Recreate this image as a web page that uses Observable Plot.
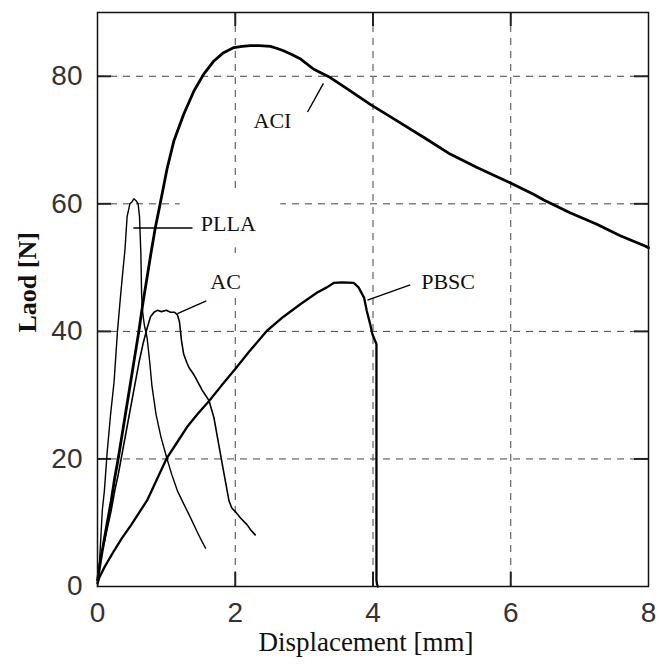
<!DOCTYPE html>
<html><head><meta charset="utf-8">
<script src="https://cdn.jsdelivr.net/npm/d3@7"></script>
<script src="https://cdn.jsdelivr.net/npm/@observablehq/plot@0.6"></script>
<style>
html,body{margin:0;padding:0;background:#fff;}
#chart{width:667px;height:664px;}
</style></head><body><div id="chart"></div>
<script>
const xTicks = [0, 2, 4, 6, 8];
const yTicks = [0, 20, 40, 60, 80];

const pllaX = [0, 0.02, 0.05, 0.07, 0.1, 0.14, 0.19, 0.24, 0.29, 0.33, 0.36, 0.40, 0.43, 0.47, 0.50, 0.53, 0.56, 0.59, 0.61, 0.63, 0.64, 0.65, 0.68, 0.72, 0.76, 0.79, 0.85, 0.92, 1.01, 1.08, 1.16, 1.25, 1.35, 1.45, 1.52, 1.57];
const pllaY = [0, 2, 8, 12, 15, 21, 27, 32, 40, 45, 48.5, 53, 58, 60, 60.3, 60.8, 60.5, 60, 58, 52, 46, 43.5, 41, 39, 35, 31.5, 27, 23.5, 20, 17.5, 15, 13, 10.8, 8.5, 7, 6];

const aciX = [0, 0.03, 0.06, 0.1, 0.15, 0.2, 0.25, 0.3, 0.36, 0.42, 0.48, 0.54, 0.6, 0.66, 0.72, 0.78, 0.84, 0.91, 1.01, 1.11, 1.25, 1.40, 1.54, 1.69, 1.83, 1.98, 2.1, 2.22, 2.35, 2.51, 2.6, 2.70, 2.82, 2.95, 3.14, 3.38, 3.67, 3.96, 4.35, 4.74, 5.12, 5.51, 5.99, 6.33, 6.48, 6.86, 7.25, 7.59, 7.95, 8.0];
const aciY = [1, 3, 5, 7.5, 10.5, 13.5, 17, 20, 24, 28, 32, 36, 40, 44.5, 48.5, 52.5, 56.3, 60, 65.5, 69.9, 74, 77.7, 80.3, 82.4, 83.7, 84.5, 84.7, 84.8, 84.8, 84.7, 84.4, 84.0, 83.4, 82.7, 81.1, 79.8, 77.7, 75.6, 73.0, 70.4, 67.8, 65.7, 63.3, 61.5, 60.6, 58.6, 56.8, 55.0, 53.4, 53.1];

const acX = [0, 0.02, 0.05, 0.1, 0.15, 0.2, 0.25, 0.3, 0.36, 0.42, 0.48, 0.54, 0.6, 0.66, 0.72, 0.77, 0.82, 0.87, 0.93, 1.0, 1.06, 1.12, 1.16, 1.19, 1.22, 1.25, 1.3, 1.33, 1.4, 1.45, 1.52, 1.58, 1.62, 1.69, 1.76, 1.83, 1.91, 1.95, 2.02, 2.08, 2.17, 2.23, 2.29];
const acY = [0.5, 3, 5, 7, 9.5, 12, 15, 17.5, 21, 24.5, 28, 31.5, 35, 38, 40.5, 42.3, 43, 43.3, 43.1, 43.3, 43, 43, 42.6, 41.5, 38.5, 36.5, 35, 34.3, 33.2, 32.2, 30.8, 29.8, 29.1, 26.5, 22.3, 18.1, 13.4, 12.3, 11.5, 10.7, 9.7, 8.8, 8.1];

const pbscX = [0, 0.03, 0.1, 0.18, 0.24, 0.35, 0.48, 0.6, 0.72, 0.85, 1.0, 1.15, 1.3, 1.45, 1.62, 1.8, 2.0, 2.2, 2.46, 2.7, 2.95, 3.19, 3.33, 3.43, 3.55, 3.72, 3.79, 3.87, 3.91, 3.96, 3.99, 4.02, 4.05, 4.05, 4.05, 4.06, 4.07];
const pbscY = [0.5, 1.5, 3, 4.5, 5.6, 7.5, 9.5, 11.5, 13.5, 16.5, 20, 22.5, 25, 27, 29.1, 31.5, 34.1, 36.8, 40.1, 42.3, 44.3, 46.1, 46.9, 47.6, 47.7, 47.6, 46.9, 45.3, 43.2, 41.1, 39.6, 38.8, 38, 20, 1, 0.3, 0];

const labelText = ["PLLA", "AC", "ACI", "PBSC"];
const labelX = [1.9, 1.86, 2.54, 5.09];
const labelY = [56.8, 47.8, 73.0, 47.8];
const leaderX1 = [0.52, 1.16, 3.05, 3.92];
const leaderY1 = [56.2, 42.8, 74.4, 44.9];
const leaderX2 = [1.38, 1.58, 3.28, 4.54];
const leaderY2 = [56.2, 44.8, 78.9, 47.3];

// white label backgrounds that interrupt the grid (PLLA, AC)
const boxX1 = [1.2, 1.5];
const boxX2 = [2.66, 2.3];
const boxY1 = [53.1, 45.3];
const boxY2 = [61.8, 52.1];

const toRows = (xs, ys) => xs.map((x, i) => ({x, y: ys[i]}));
const series = [
  {name: "PLLA", rows: toRows(pllaX, pllaY), w: 1.4},
  {name: "AC", rows: toRows(acX, acY), w: 1.6},
  {name: "ACI", rows: toRows(aciX, aciY), w: 2.8},
  {name: "PBSC", rows: toRows(pbscX, pbscY), w: 2.3}
];
const idx = labelText.map((_, i) => i);
const boxIdx = boxX1.map((_, i) => i);

const W = 667, H = 664, mL = 97, mR = 19, mT = 12, mB = 78;
const innerW = W - mL - mR, innerH = H - mT - mB;
const tickLen = 14;

const marks = [
  Plot.gridY(yTicks.filter(v => v > 0), {stroke: "#444", strokeOpacity: 1, strokeWidth: 1, strokeDasharray: "7,6"}),
  Plot.gridX(xTicks.filter(v => v > 0 && v < 8), {stroke: "#444", strokeOpacity: 1, strokeWidth: 1, strokeDasharray: "7,6"}),
  Plot.rect(boxIdx, {x1: i => boxX1[i], x2: i => boxX2[i], y1: i => boxY1[i], y2: i => boxY2[i], fill: "white"}),
  Plot.tickY(yTicks.filter(v => v > 0), {y: d => d, insetRight: innerW - tickLen, stroke: "#222", strokeWidth: 2}),
  Plot.tickY(yTicks.filter(v => v > 0), {y: d => d, insetLeft: innerW - tickLen, stroke: "#222", strokeWidth: 2}),
  Plot.tickX(xTicks.filter(v => v > 0 && v < 8), {x: d => d, insetTop: innerH - tickLen, stroke: "#222", strokeWidth: 2}),
  Plot.tickX(xTicks.filter(v => v > 0 && v < 8), {x: d => d, insetBottom: innerH - tickLen, stroke: "#222", strokeWidth: 2}),
  ...series.map(s => Plot.line(s.rows, {x: "x", y: "y", stroke: "black", strokeWidth: s.w, strokeLinejoin: "miter"})),
  Plot.link(idx, {x1: i => leaderX1[i], y1: i => leaderY1[i], x2: i => leaderX2[i], y2: i => leaderY2[i], stroke: "black", strokeWidth: 1.4}),
  Plot.text(idx, {x: i => labelX[i], y: i => labelY[i], text: i => labelText[i], fontFamily: "Liberation Serif", fontSize: 22, fill: "#111"}),
  Plot.axisY(yTicks, {tickSize: 0, tickPadding: 15, fontSize: 28, fontFamily: "Liberation Sans", fill: "#333", label: null}),
  Plot.axisX(xTicks, {tickSize: 0, tickPadding: 16, fontSize: 28, fontFamily: "Liberation Sans", fill: "#333", label: null}),
  Plot.text(["Displacement [mm]"], {frameAnchor: "bottom", dy: 64, dx: -7, text: d => d, fontFamily: "Liberation Serif", fontSize: 27, fill: "#111", letterSpacing: "0.5px"}),
  Plot.text(["Laod [N]"], {frameAnchor: "left", dx: -69.5, dy: 33, rotate: -90, text: d => d, fontFamily: "Liberation Serif", fontWeight: "bold", fontSize: 26, fill: "#111"}),
  Plot.frame({stroke: "#111", strokeWidth: 1.5})
];

const chart = Plot.plot({
  width: W, height: H,
  marginLeft: mL, marginRight: mR, marginTop: mT, marginBottom: mB,
  style: {background: "white", overflow: "visible"},
  x: {domain: [0, 8]},
  y: {domain: [0, 90]},
  marks
});
document.getElementById("chart").appendChild(chart);
</script></body></html>
